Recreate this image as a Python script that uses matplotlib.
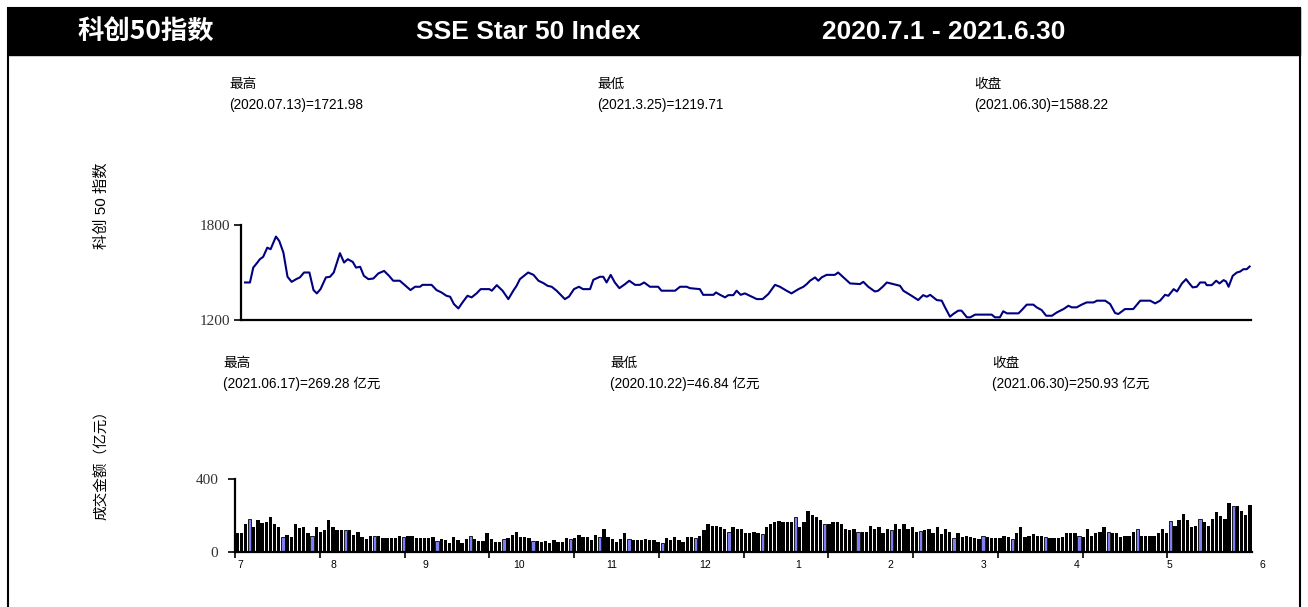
import matplotlib
matplotlib.use("Agg")
import matplotlib.pyplot as plt
from matplotlib.patches import Rectangle

W, H, DPI = 1308, 607, 100

# ---------------- data ----------------
header_cn = "科创50指数"
header_en = "SSE Star 50 Index"
header_period = "2020.7.1 - 2021.6.30"

index_notes = [("最高", "(2020.07.13)=1721.98"),
               ("最低", "(2021.3.25)=1219.71"),
               ("收盘", "(2021.06.30)=1588.22")]
volume_notes = [("最高", "(2021.06.17)=269.28 亿元"),
                ("最低", "(2020.10.22)=46.84 亿元"),
                ("收盘", "(2021.06.30)=250.93 亿元")]

index_ylabel = "科创 50 指数"
volume_ylabel = "成交金额（亿元）"

# trading-day position of each read point of the index line, and its value
index_day = [0.0, 1.2, 2.0, 3.0, 3.6, 4.4, 5.4, 6.2, 7.5, 8.3, 9.3, 10.3, 11.3, 12.4, 13.3,
             14.3, 15.6, 16.6, 17.4, 18.3, 19.6, 20.6, 21.5, 23.0, 24.0, 24.9, 26.1, 26.9,
             27.9, 28.8, 29.9, 31.1, 32.3, 33.7, 34.9, 35.9, 37.5, 39.2, 40.1, 41.2, 42.4,
             43.0, 45.2, 46.4, 47.6, 48.8, 49.7, 50.6, 51.7, 52.7, 53.9, 54.9, 56.1, 57.1,
             59.2, 59.8, 61.0, 62.4, 63.8, 65.0, 65.8, 66.6, 67.6, 68.6, 69.9, 71.1, 72.3,
             73.3, 74.3, 75.5, 76.3, 77.5, 78.5, 79.7, 80.9, 81.9, 83.6, 84.4, 86.0, 86.8,
             87.6, 88.6, 89.6, 90.7, 92.1, 93.1, 94.5, 95.7, 96.7, 98.1, 100.1, 100.9, 104.2,
             105.4, 107.0, 107.8, 110.2, 111.0, 113.5, 114.1, 115.1, 116.3, 117.1, 118.3,
             119.1, 120.1, 121.1, 122.3, 124.0, 125.4, 126.8, 128.4, 129.6, 131.2, 132.4,
             134.1, 135.3, 136.1, 136.9, 138.1, 138.9, 139.7, 140.9, 142.9, 143.7, 145.0,
             146.6, 149.0, 149.8, 151.0, 152.6, 153.4, 154.5, 155.5, 158.7, 159.5, 161.5,
             163.1, 164.3, 165.2, 166.0, 167.6, 168.8, 169.6, 170.8, 171.6, 172.8, 173.6,
             174.9, 175.7, 176.9, 180.9, 181.7, 182.9, 183.7, 184.6, 187.4, 188.2, 189.4,
             191.0, 191.8, 193.0, 194.1, 195.5, 196.7, 198.3, 199.5, 200.3, 201.5, 202.7,
             203.9, 205.6, 206.4, 208.4, 209.6, 210.8, 211.6, 213.2, 215.2, 216.9, 219.3,
             220.5, 221.7, 222.9, 223.7, 225.0, 225.8, 227.0, 228.0, 228.6, 229.6, 230.6,
             231.4, 232.6, 233.0, 234.2, 235.3, 236.1, 237.1, 237.7, 238.3, 239.3, 240.3,
             241.1, 241.9, 242.7, 243.4]
index_value = [1437, 1437, 1531, 1563, 1584, 1599, 1657, 1647, 1727, 1699, 1626, 1473, 1441,
               1458, 1469, 1500, 1500, 1389, 1368, 1395, 1469, 1473, 1500, 1622, 1563, 1584,
               1567, 1531, 1536, 1479, 1458, 1462, 1494, 1510, 1479, 1448, 1448, 1410, 1389,
               1410, 1410, 1422, 1422, 1389, 1374, 1353, 1347, 1301, 1273, 1311, 1353, 1343,
               1368, 1395, 1395, 1385, 1420, 1385, 1332, 1385, 1416, 1458, 1479, 1500, 1485,
               1448, 1433, 1416, 1410, 1385, 1364, 1332, 1348, 1395, 1410, 1395, 1395, 1454,
               1473, 1473, 1437, 1485, 1437, 1401, 1427, 1448, 1422, 1422, 1437, 1410, 1410,
               1385, 1385, 1410, 1410, 1401, 1395, 1359, 1359, 1374, 1359, 1343, 1357, 1357,
               1385, 1359, 1368, 1353, 1332, 1332, 1364, 1422, 1410, 1385, 1368, 1395, 1410,
               1427, 1448, 1469, 1448, 1469, 1485, 1485, 1500, 1469, 1431, 1427, 1441, 1410,
               1380, 1385, 1410, 1437, 1416, 1385, 1353, 1326, 1357, 1347, 1359, 1326, 1322,
               1280, 1221, 1238, 1259, 1259, 1217, 1217, 1234, 1234, 1217, 1217, 1255, 1242,
               1242, 1263, 1297, 1297, 1280, 1263, 1227, 1227, 1248, 1269, 1290, 1280, 1280,
               1297, 1311, 1311, 1322, 1322, 1301, 1244, 1238, 1269, 1269, 1322, 1322, 1305,
               1322, 1359, 1353, 1395, 1380, 1431, 1458, 1437, 1406, 1410, 1437, 1437, 1420,
               1420, 1448, 1431, 1452, 1443, 1410, 1479, 1500, 1506, 1521, 1521, 1538]

# daily turnover (亿元), one per trading day
volume = [102, 102, 154, 180, 135, 172, 157, 163, 189, 154,
          135, 83, 93, 83, 154, 130, 135, 102, 87, 135,
          111, 120, 172, 135, 117, 117, 117, 117, 93, 107,
          80, 69, 89, 87, 89, 74, 74, 74, 74, 89,
          80, 89, 89, 74, 74, 74, 74, 80, 61, 70,
          65, 46, 80, 65, 46, 70, 87, 70, 61, 61,
          102,
          69, 56, 56, 69, 74, 93, 107, 80, 80, 74,
          61, 61, 56, 61, 46, 65, 56, 56, 74, 69,
          74, 93, 80, 80, 65, 93, 83, 126, 80, 69,
          56, 69, 102, 69, 65, 65, 65, 70, 65, 65,
          56, 50, 74, 65, 83, 65, 56, 80, 80, 74,
          89, 117, 154, 144, 144, 135, 126, 111, 135, 126,
          126, 102, 102,
          107, 102, 96, 135, 154, 163, 170, 163, 163, 163,
          189, 135, 163, 226, 200, 191, 172, 152, 154, 163,
          163, 154, 126, 117, 126, 106, 107, 107, 144, 126,
          135, 102, 126, 120, 154, 126, 154, 126, 135, 107,
          115, 117, 126, 102, 135, 98, 126, 106, 74, 102,
          83, 89, 80, 74, 70, 89, 80, 74, 74, 74,
          89, 80,
          70, 102, 135, 80, 89, 98, 89, 89, 83, 74,
          74, 74, 80, 102, 102, 102, 87, 80, 126, 89,
          102, 107, 135, 106, 102, 102, 83, 89, 89, 107,
          124, 89, 89, 89, 89, 102, 126, 102, 170, 144,
          172, 207, 172, 135, 144, 180, 163, 144, 180, 217,
          198, 180, 269, 254, 254, 226, 200, 259]

highlight_days = [3, 11, 18, 26, 33, 40, 48, 56, 64, 71, 80, 87, 94, 102, 110, 118,
                  126, 134, 141, 149, 157, 164, 172, 179, 186, 194, 202, 209, 216, 224,
                  231, 239]

month_labels = ["7", "8", "9", "10", "11", "12", "1", "2", "3", "4", "5", "6"]

# ---------------- figure ----------------
fig = plt.figure(figsize=(W / DPI, H / DPI), dpi=DPI)
fig.patch.set_facecolor("white")


def fx(x):
    return x / W


def fy(y):
    return 1 - y / H


CJK = ["Noto Sans CJK SC", "DejaVu Sans"]
MIX = ["Liberation Sans", "Noto Sans CJK SC"]

# outer border + header band
fig.add_artist(Rectangle((fx(8), fy(612)), fx(1300) - fx(8), fy(8) - fy(612),
                         transform=fig.transFigure, fill=False, edgecolor="black",
                         linewidth=1.5))
fig.add_artist(Rectangle((fx(8), fy(55)), fx(1300) - fx(8), fy(8) - fy(55),
                         transform=fig.transFigure, facecolor="black", edgecolor="black"))
fig.text(fx(77), fy(32), header_cn, color="white", fontsize=19, fontweight="bold",
         family=CJK, va="center", ha="left")
fig.text(fx(416), fy(32), header_en, color="white", fontsize=19, fontweight="bold",
         family="Liberation Sans", va="center", ha="left")
fig.text(fx(822), fy(32), header_period, color="white", fontsize=19, fontweight="bold",
         family="Liberation Sans", va="center", ha="left")

# notes
for (t1, t2), x in zip(index_notes, [229, 597, 974]):
    fig.text(fx(x), fy(84), t1, fontsize=9.8, family=MIX, va="center", ha="left")
    fig.text(fx(x), fy(105), t2, fontsize=9.8, family=MIX, va="center", ha="left")
for (t1, t2), x in zip(volume_notes, [223, 610, 992]):
    fig.text(fx(x), fy(363), t1, fontsize=9.8, family=MIX, va="center", ha="left")
    fig.text(fx(x), fy(384), t2, fontsize=9.8, family=MIX, va="center", ha="left")

fig.text(fx(102), fy(206), index_ylabel, rotation=90, fontsize=11, family=MIX,
         va="center", ha="center")
fig.text(fx(102), fy(461), volume_ylabel, rotation=90, fontsize=10.5, family=CJK,
         va="center", ha="center")

serif = "Liberation Serif"

# ---------------- index line ----------------
ax1 = fig.add_axes([fx(241), fy(320), fx(1251) - fx(241), fy(225) - fy(320)])
ax1.plot(index_day, index_value, color="#000080", linewidth=1.5, clip_on=False)
ax1.set_xlim(-0.97, 243.73)
ax1.set_ylim(1200, 1800)
ax1.set_yticks([1200, 1800])
ax1.set_yticklabels(["1200", "1800"], fontsize=11, family=serif, color="#333333")
ax1.set_xticks([])
for s in ["top", "right"]:
    ax1.spines[s].set_visible(False)
for s in ["left", "bottom"]:
    ax1.spines[s].set_linewidth(1.6)
ax1.tick_params(axis="y", direction="out", length=5, width=1.2, pad=3)
ax1.patch.set_alpha(0)

# ---------------- volume bars ----------------
ax2 = fig.add_axes([fx(235), fy(551.7), fx(1252) - fx(235), fy(479) - fy(551.7)])
days = list(range(len(volume)))
face = ["#8080f0" if d in highlight_days else "black" for d in days]
edge = ["black" if d in highlight_days else "none" for d in days]
lw = [0.6 if d in highlight_days else 0 for d in days]
ax2.bar(days, volume, width=0.8, color=face, edgecolor=edge, linewidth=lw)
ax2.set_xlim(-0.5, len(volume) - 0.5)
ax2.set_ylim(0, 400)
ax2.set_yticks([0, 400])
ax2.set_yticklabels(["0", "400"], fontsize=11, family=serif, color="#333333")
n = len(volume)
ax2.set_xticks([-0.5 + k * n / 12 for k in range(12)])
ax2.set_xticklabels([])
for k, lab in enumerate(month_labels):
    ax2.text(0.7 + k * 22.3, -0.185, lab, transform=ax2.get_xaxis_transform(),
             fontsize=7.5, family="Liberation Sans", ha="center", va="center",
             clip_on=False)
for s in ["top", "right"]:
    ax2.spines[s].set_visible(False)
for s in ["left", "bottom"]:
    ax2.spines[s].set_linewidth(1.6)
ax2.tick_params(axis="y", direction="out", length=5, width=1.2, pad=7)
ax2.tick_params(axis="x", direction="out", length=4, width=1.2)
ax2.patch.set_alpha(0)

fig.savefig("out.png", dpi=DPI, facecolor="white")
